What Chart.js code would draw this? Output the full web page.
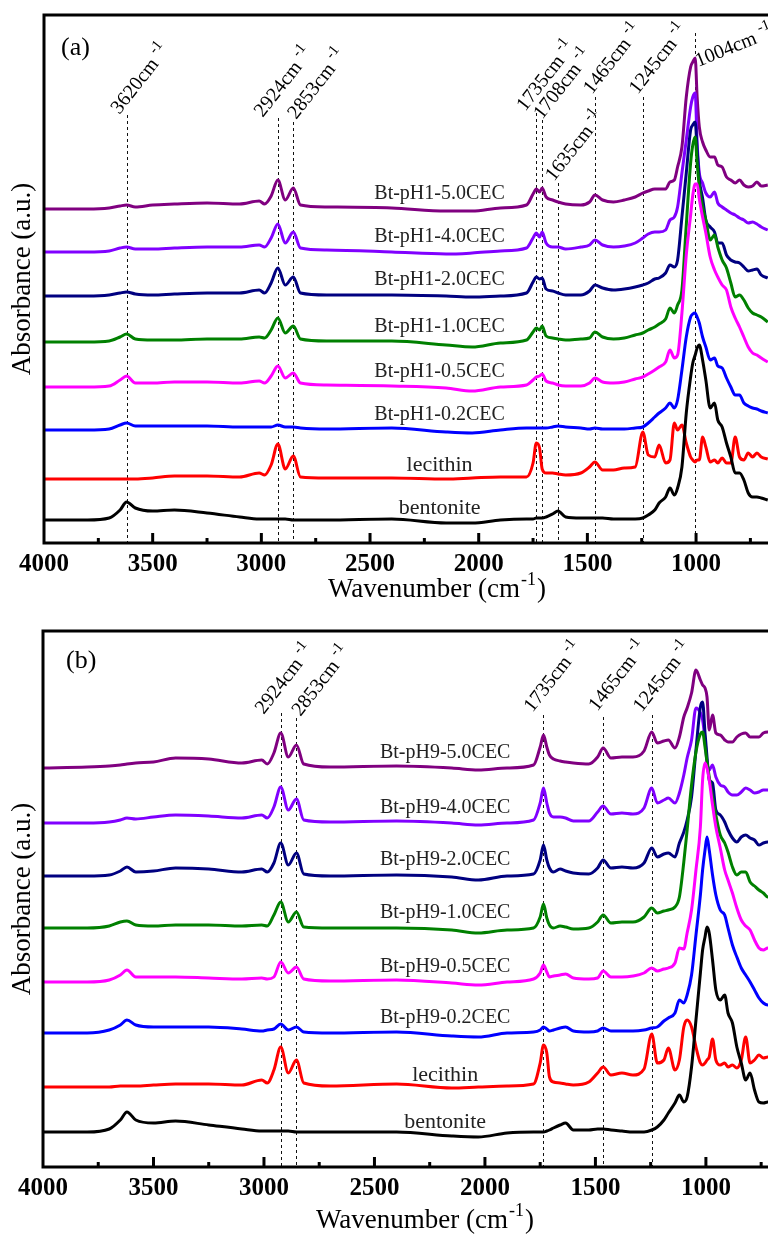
<!DOCTYPE html>
<html>
<head>
<meta charset="utf-8">
<script src="https://cdn.jsdelivr.net/npm/chart.js@4.4.1/dist/chart.umd.min.js"></script>
<style>
  html, body { margin: 0; padding: 0; background: #fff; }
  #wrap { position: relative; width: 768px; height: 1234px; overflow: hidden; }
  #panelA { position: absolute; left: 0; top: 0; }
  #panelB { position: absolute; left: 0; top: 612px; }
</style>
</head>
<body>
<div id="wrap">
  <canvas id="panelA" width="768" height="612"></canvas>
  <canvas id="panelB" width="768" height="622"></canvas>
</div>
<script>
// wavenumber grid (cm-1), shared by every spectrum
var wavenumbers = [4000, 3800, 3700, 3650, 3620, 3580, 3500, 3400, 3250, 3100,
    3010, 2985, 2955, 2924, 2890, 2853, 2820, 2700, 2400, 2150,
    2030, 1900, 1780, 1750, 1735, 1720, 1708, 1690, 1660, 1635,
    1600, 1530, 1490, 1465, 1430, 1380, 1330, 1280, 1245, 1220,
    1190, 1170, 1140, 1120, 1100, 1085, 1065, 1045, 1025, 1015,
    1004, 995, 985, 970, 955, 935, 915, 900, 880, 860,
    840, 820, 800, 780, 760, 740, 720, 700, 670];
var tickValues = [4000, 3500, 3000, 2500, 2000, 1500, 1000];

// (a) pH 1 series, stacked absorbance (a.u.)
var a_bentonite = [0.23, 0.23, 0.25, 0.33, 0.41, 0.35, 0.32, 0.33, 0.30, 0.26,
    0.24, 0.24, 0.24, 0.24, 0.24, 0.23, 0.23, 0.23, 0.24, 0.20,
    0.20, 0.23, 0.24, 0.24, 0.25, 0.25, 0.25, 0.26, 0.29, 0.32,
    0.26, 0.25, 0.25, 0.25, 0.25, 0.24, 0.24, 0.24, 0.25, 0.28,
    0.33, 0.40, 0.46, 0.55, 0.48, 0.55, 0.76, 1.30, 1.66, 1.80,
    1.88, 1.95, 1.98, 1.83, 1.63, 1.35, 1.40, 1.23, 1.16, 1.00,
    0.86, 0.70, 0.70, 0.63, 0.50, 0.46, 0.46, 0.45, 0.43];
var a_lecithin = [0.64, 0.64, 0.64, 0.64, 0.64, 0.64, 0.65, 0.67, 0.67, 0.66,
    0.70, 0.68, 0.78, 0.99, 0.74, 0.87, 0.66, 0.65, 0.65, 0.64,
    0.65, 0.66, 0.66, 0.80, 1.00, 0.95, 0.74, 0.70, 0.70, 0.69,
    0.68, 0.70, 0.76, 0.81, 0.73, 0.73, 0.75, 0.76, 1.11, 0.88,
    0.86, 0.98, 0.80, 0.83, 1.20, 1.13, 1.18, 1.00, 0.86, 0.83,
    0.81, 0.83, 0.83, 1.06, 0.96, 0.81, 0.83, 0.80, 0.85, 0.80,
    0.80, 1.06, 0.86, 0.83, 0.90, 0.86, 0.90, 0.86, 0.84];
var a_cec02 = [1.13, 1.13, 1.14, 1.18, 1.20, 1.17, 1.17, 1.17, 1.17, 1.16,
    1.16, 1.16, 1.16, 1.18, 1.16, 1.16, 1.15, 1.14, 1.15, 1.11,
    1.10, 1.13, 1.15, 1.15, 1.15, 1.15, 1.15, 1.15, 1.16, 1.17,
    1.16, 1.15, 1.14, 1.15, 1.14, 1.14, 1.14, 1.15, 1.16, 1.20,
    1.26, 1.30, 1.35, 1.40, 1.35, 1.43, 1.73, 2.06, 2.26, 2.29,
    2.30, 2.26, 2.20, 2.06, 1.96, 1.83, 1.85, 1.77, 1.75, 1.65,
    1.56, 1.48, 1.48, 1.40, 1.37, 1.35, 1.34, 1.32, 1.30];
var a_cec05 = [1.56, 1.56, 1.57, 1.63, 1.67, 1.60, 1.60, 1.61, 1.61, 1.60,
    1.62, 1.60, 1.67, 1.77, 1.65, 1.70, 1.60, 1.58, 1.57, 1.55,
    1.52, 1.56, 1.58, 1.63, 1.66, 1.67, 1.69, 1.62, 1.60, 1.58,
    1.57, 1.57, 1.60, 1.65, 1.61, 1.60, 1.61, 1.64, 1.66, 1.69,
    1.73, 1.76, 1.81, 1.93, 1.85, 1.88, 2.30, 2.88, 3.28, 3.48,
    3.59, 3.59, 3.44, 3.26, 3.10, 2.86, 2.73, 2.66, 2.58, 2.53,
    2.36, 2.25, 2.16, 2.06, 1.96, 1.90, 1.88, 1.85, 1.81];
var a_cec10 = [2.01, 2.01, 2.02, 2.06, 2.09, 2.04, 2.03, 2.03, 2.04, 2.04,
    2.06, 2.05, 2.13, 2.25, 2.10, 2.17, 2.04, 2.02, 2.02, 1.98,
    1.96, 2.00, 2.03, 2.11, 2.15, 2.13, 2.17, 2.07, 2.05, 2.04,
    2.03, 2.04, 2.05, 2.11, 2.06, 2.04, 2.05, 2.08, 2.10, 2.13,
    2.16, 2.19, 2.24, 2.35, 2.30, 2.38, 2.53, 3.18, 3.80, 3.98,
    4.06, 3.80, 3.56, 3.36, 3.23, 3.03, 3.08, 2.96, 2.83, 2.75,
    2.60, 2.46, 2.48, 2.43, 2.35, 2.30, 2.28, 2.26, 2.21];
var a_cec20 = [2.47, 2.47, 2.48, 2.50, 2.51, 2.49, 2.48, 2.49, 2.50, 2.50,
    2.53, 2.50, 2.60, 2.75, 2.58, 2.66, 2.50, 2.48, 2.48, 2.47,
    2.46, 2.47, 2.50, 2.61, 2.66, 2.64, 2.65, 2.54, 2.52, 2.50,
    2.48, 2.48, 2.52, 2.58, 2.55, 2.53, 2.54, 2.56, 2.58, 2.60,
    2.64, 2.65, 2.70, 2.78, 2.76, 2.83, 3.26, 3.70, 4.13, 4.18,
    4.21, 3.93, 3.63, 3.45, 3.23, 3.16, 3.11, 3.00, 3.00, 2.88,
    2.83, 2.81, 2.80, 2.76, 2.72, 2.73, 2.74, 2.68, 2.65];
var a_cec40 = [2.91, 2.91, 2.92, 2.95, 2.96, 2.94, 2.94, 2.95, 2.96, 2.96,
    2.98, 2.96, 3.05, 3.19, 3.00, 3.11, 2.95, 2.93, 2.91, 2.89,
    2.90, 2.92, 2.95, 3.05, 3.10, 3.06, 3.11, 3.00, 2.96, 2.96,
    2.94, 2.96, 2.98, 3.03, 2.98, 2.96, 2.97, 3.00, 3.05, 3.09,
    3.11, 3.11, 3.13, 3.23, 3.26, 3.36, 3.70, 4.03, 4.36, 4.46,
    4.50, 4.00, 3.70, 3.60, 3.50, 3.46, 3.51, 3.40, 3.36, 3.33,
    3.30, 3.28, 3.25, 3.23, 3.20, 3.21, 3.19, 3.16, 3.13];
var a_cec50 = [3.34, 3.34, 3.35, 3.37, 3.38, 3.36, 3.38, 3.39, 3.40, 3.39,
    3.42, 3.39, 3.47, 3.63, 3.43, 3.55, 3.38, 3.36, 3.35, 3.32,
    3.32, 3.35, 3.38, 3.49, 3.54, 3.51, 3.55, 3.46, 3.43, 3.41,
    3.39, 3.38, 3.41, 3.48, 3.43, 3.41, 3.43, 3.46, 3.50, 3.52,
    3.54, 3.54, 3.54, 3.61, 3.63, 3.76, 3.96, 4.46, 4.76, 4.81,
    4.85, 4.46, 4.16, 4.01, 3.93, 3.86, 3.86, 3.78, 3.76, 3.66,
    3.63, 3.60, 3.63, 3.58, 3.56, 3.57, 3.61, 3.57, 3.58];

// (b) pH 9 series
var b_bentonite = [0.35, 0.35, 0.38, 0.47, 0.55, 0.47, 0.44, 0.46, 0.42, 0.38,
    0.36, 0.36, 0.36, 0.36, 0.36, 0.35, 0.35, 0.35, 0.35, 0.31,
    0.30, 0.34, 0.35, 0.35, 0.35, 0.36, 0.37, 0.39, 0.42, 0.44,
    0.37, 0.37, 0.38, 0.38, 0.37, 0.36, 0.35, 0.35, 0.37, 0.40,
    0.47, 0.54, 0.64, 0.72, 0.65, 0.70, 1.00, 1.47, 1.94, 2.17,
    2.30, 2.40, 2.34, 2.07, 1.77, 1.67, 1.72, 1.54, 1.44, 1.20,
    1.04, 0.87, 0.94, 0.77, 0.65, 0.64, 0.65, 0.65, 0.65];
var b_lecithin = [0.80, 0.80, 0.80, 0.81, 0.81, 0.81, 0.82, 0.83, 0.83, 0.82,
    0.87, 0.84, 0.97, 1.20, 0.94, 1.07, 0.84, 0.81, 0.83, 0.79,
    0.80, 0.81, 0.83, 1.04, 1.22, 1.14, 0.90, 0.85, 0.84, 0.83,
    0.82, 0.85, 0.94, 1.00, 0.92, 0.94, 0.92, 0.98, 1.33, 1.04,
    1.07, 1.19, 0.97, 1.07, 1.40, 1.47, 1.40, 1.20, 1.04, 1.02,
    1.04, 1.07, 1.10, 1.28, 1.07, 1.02, 1.04, 1.00, 1.02, 0.99,
    1.07, 1.30, 1.04, 1.07, 1.12, 1.09, 1.10, 1.10, 1.10];
var b_cec02 = [1.34, 1.34, 1.37, 1.42, 1.47, 1.42, 1.40, 1.40, 1.40, 1.38,
    1.36, 1.37, 1.38, 1.43, 1.37, 1.40, 1.35, 1.34, 1.35, 1.31,
    1.30, 1.34, 1.35, 1.37, 1.40, 1.38, 1.36, 1.37, 1.39, 1.40,
    1.36, 1.35, 1.36, 1.39, 1.36, 1.36, 1.36, 1.37, 1.39, 1.40,
    1.46, 1.49, 1.54, 1.67, 1.64, 1.72, 1.92, 2.32, 2.72, 2.97,
    3.17, 3.30, 3.17, 2.92, 2.72, 2.57, 2.52, 2.39, 2.22, 2.10,
    1.99, 1.92, 1.85, 1.77, 1.69, 1.64, 1.62, 1.62, 1.62];
var b_cec05 = [1.85, 1.85, 1.87, 1.92, 1.97, 1.90, 1.90, 1.90, 1.89, 1.88,
    1.89, 1.88, 1.90, 2.05, 1.94, 2.00, 1.88, 1.86, 1.87, 1.84,
    1.82, 1.85, 1.88, 1.94, 2.02, 1.95, 1.90, 1.91, 1.92, 1.93,
    1.89, 1.88, 1.89, 1.96, 1.90, 1.90, 1.91, 1.94, 1.99, 1.96,
    1.98, 1.99, 2.04, 2.19, 2.18, 2.34, 2.57, 2.97, 3.40, 3.87,
    4.04, 3.99, 3.87, 3.62, 3.40, 3.19, 2.97, 2.87, 2.74, 2.59,
    2.47, 2.41, 2.37, 2.27, 2.19, 2.17, 2.19, 2.19, 2.19];
var b_cec10 = [2.39, 2.39, 2.41, 2.45, 2.46, 2.42, 2.41, 2.42, 2.42, 2.41,
    2.42, 2.41, 2.52, 2.65, 2.45, 2.55, 2.40, 2.39, 2.39, 2.37,
    2.34, 2.37, 2.39, 2.50, 2.63, 2.49, 2.42, 2.39, 2.41, 2.40,
    2.38, 2.39, 2.45, 2.52, 2.44, 2.45, 2.45, 2.50, 2.59, 2.54,
    2.56, 2.57, 2.60, 2.70, 3.05, 3.37, 3.82, 4.15, 4.33, 4.35,
    4.20, 4.05, 3.90, 3.70, 3.52, 3.32, 3.24, 3.15, 3.00, 2.92,
    2.95, 2.95, 2.85, 2.81, 2.77, 2.74, 2.70, 2.70, 2.70];
var b_cec20 = [2.91, 2.91, 2.92, 2.96, 3.00, 2.95, 2.96, 2.99, 2.98, 2.95,
    2.98, 2.95, 3.04, 3.24, 3.02, 3.14, 2.93, 2.91, 2.92, 2.90,
    2.87, 2.91, 2.93, 3.07, 3.22, 3.07, 2.99, 2.95, 2.98, 2.96,
    2.94, 2.93, 2.99, 3.07, 2.99, 3.00, 2.99, 3.04, 3.19, 3.10,
    3.13, 3.14, 3.10, 3.24, 3.35, 3.47, 3.70, 4.17, 4.60, 4.65,
    4.34, 4.10, 3.87, 3.84, 3.57, 3.52, 3.45, 3.37, 3.29, 3.25,
    3.30, 3.32, 3.29, 3.27, 3.22, 3.24, 3.25, 3.25, 3.25];
var b_cec40 = [3.44, 3.44, 3.45, 3.47, 3.49, 3.48, 3.50, 3.52, 3.51, 3.49,
    3.52, 3.49, 3.60, 3.80, 3.57, 3.68, 3.47, 3.45, 3.46, 3.44,
    3.42, 3.44, 3.47, 3.64, 3.79, 3.64, 3.54, 3.50, 3.50, 3.49,
    3.46, 3.46, 3.55, 3.61, 3.53, 3.54, 3.53, 3.59, 3.79, 3.64,
    3.67, 3.69, 3.64, 3.74, 3.92, 4.09, 4.27, 4.59, 4.54, 4.47,
    4.27, 4.04, 3.97, 4.02, 3.90, 3.82, 3.80, 3.75, 3.72, 3.72,
    3.75, 3.79, 3.77, 3.74, 3.75, 3.77, 3.77, 3.77, 3.77];
var b_cec50 = [3.99, 4.00, 4.01, 4.02, 4.03, 4.04, 4.05, 4.09, 4.08, 4.04,
    4.07, 4.03, 4.14, 4.34, 4.10, 4.22, 4.03, 4.00, 4.01, 3.99,
    3.97, 3.99, 4.02, 4.20, 4.32, 4.20, 4.12, 4.08, 4.06, 4.05,
    4.04, 4.03, 4.10, 4.19, 4.09, 4.10, 4.10, 4.16, 4.35, 4.24,
    4.26, 4.27, 4.19, 4.30, 4.50, 4.59, 4.74, 4.97, 4.87, 4.82,
    4.79, 4.70, 4.37, 4.52, 4.34, 4.32, 4.27, 4.25, 4.25, 4.30,
    4.33, 4.34, 4.30, 4.30, 4.30, 4.34, 4.35, 4.35, 4.35];

var colors = ['#000000', '#ff0000', '#0000ff', '#ff00ff', '#008000', '#000080', '#8000ff', '#800080'];
var namesA = ['bentonite', 'lecithin', 'Bt-pH1-0.2CEC', 'Bt-pH1-0.5CEC', 'Bt-pH1-1.0CEC', 'Bt-pH1-2.0CEC', 'Bt-pH1-4.0CEC', 'Bt-pH1-5.0CEC'];
var namesB = ['bentonite', 'lecithin', 'Bt-pH9-0.2CEC', 'Bt-pH9-0.5CEC', 'Bt-pH9-1.0CEC', 'Bt-pH9-2.0CEC', 'Bt-pH9-4.0CEC', 'Bt-pH9-5.0CEC'];
var nameLevelA = [0.35, 0.78, 1.28, 1.71, 2.16, 2.63, 3.06, 3.49];
var nameLevelB = [0.45, 0.92, 1.49, 2.00, 2.54, 3.07, 3.59, 4.14];

// marked bands: wavenumber and the top of the dashed guide
var peaksA = [3620, 2924, 2853, 1735, 1708, 1635, 1465, 1245, 1004];
var peakTopA = [4.28, 4.25, 4.21, 4.30, 4.23, 3.60, 4.46, 4.46, 5.10];
var peaksB = [2924, 2853, 1735, 1465, 1245];
var peakTopB = [4.54, 4.49, 4.52, 4.50, 4.52];

// where each band label starts, relative to the top of its guide (px)
var labelShiftA = [[-7, 0], [-15, 0], [3, -2], [-11, -1], [0, 0], [-4, -1], [-3, -2], [-5, -2], [3, 34]];
var labelShiftB = [[-17, 2], [4, -1], [-11, -2], [-6, -5], [-10, -2]];

var serif = "'Liberation Serif', 'Times New Roman', serif";

function decor(p) {
    return {
        id: 'decor',
        beforeDatasetsDraw: function(chart) {
            var ctx = chart.ctx, area = chart.chartArea, x = chart.scales.x, y = chart.scales.y;
            ctx.save();
            ctx.strokeStyle = '#111';
            ctx.lineWidth = 1;
            ctx.setLineDash([3, 3]);
            p.peaks.forEach(function(wn, i) {
                var px = Math.round(x.getPixelForValue(wn)) + 0.5;
                ctx.beginPath();
                ctx.moveTo(px, y.getPixelForValue(p.peakTop[i]));
                ctx.lineTo(px, area.bottom);
                ctx.stroke();
            });
            ctx.restore();
        },
        afterDraw: function(chart) {
            var ctx = chart.ctx, area = chart.chartArea, x = chart.scales.x, y = chart.scales.y;
            ctx.save();
            ctx.strokeStyle = '#000';
            ctx.lineWidth = 3;
            ctx.beginPath();
            ctx.moveTo(chart.width + 5, area.top);
            ctx.lineTo(area.left, area.top);
            ctx.lineTo(area.left, area.bottom);
            ctx.lineTo(chart.width + 5, area.bottom);
            ctx.stroke();

            // inward tick marks
            for (var v = 750; v < 4000; v += 250) {
                var tx = x.getPixelForValue(v);
                if (tx > area.right) continue;
                var len = v % 500 === 0 ? 10 : 5;
                ctx.beginPath();
                ctx.moveTo(tx, area.bottom);
                ctx.lineTo(tx, area.bottom - len);
                ctx.stroke();
            }

            ctx.fillStyle = '#000';
            // band labels, rotated
            p.peaks.forEach(function(wn, i) {
                var flat = wn === 1004;
                var ax = x.getPixelForValue(wn) + p.labelShift[i][0];
                var ay = y.getPixelForValue(p.peakTop[i]) + p.labelShift[i][1];
                ctx.save();
                ctx.translate(ax, ay);
                ctx.rotate(-(flat ? 22 : 52) * Math.PI / 180);
                ctx.textAlign = 'left';
                ctx.textBaseline = 'alphabetic';
                ctx.font = '20px ' + serif;
                var main = wn + 'cm';
                ctx.fillText(main, 0, 0);
                var w = ctx.measureText(main).width;
                ctx.font = '15px ' + serif;
                ctx.fillText('-1', w + 5, -9);
                ctx.restore();
            });

            // spectrum names
            ctx.fillStyle = '#222';
            ctx.textAlign = 'center';
            ctx.textBaseline = 'middle';
            p.names.forEach(function(name, i) {
                ctx.font = (i < 2 ? 22 : 20) + 'px ' + serif;
                ctx.fillText(name, x.getPixelForValue(2180), y.getPixelForValue(p.nameLevel[i]));
            });

            // panel tag
            ctx.fillStyle = '#000';
            ctx.textAlign = 'left';
            ctx.textBaseline = 'alphabetic';
            ctx.font = '26px ' + serif;
            ctx.fillText(p.tag, p.tagX, p.tagY);

            // x axis title with superscript
            ctx.font = '27px ' + serif;
            var t1 = 'Wavenumber (cm', t2 = ')';
            var w1 = ctx.measureText(t1).width, w2 = ctx.measureText(t2).width;
            ctx.font = '18px ' + serif;
            var ws = ctx.measureText('-1').width;
            var start = p.titleX - (w1 + ws + 2 + w2) / 2;
            var base = area.bottom + p.titleDrop;
            ctx.fillText('-1', start + w1 + 1, base - 12);
            ctx.font = '27px ' + serif;
            ctx.fillText(t1, start, base);
            ctx.fillText(t2, start + w1 + ws + 2, base);
            ctx.restore();
        }
    };
}

function buildChart(id, p) {
    var datasets = p.series.map(function(vals, i) {
        return {
            label: p.names[i],
            data: wavenumbers.map(function(w, k) { return {x: w, y: vals[k]}; }),
            borderColor: colors[i],
            borderWidth: 3,
            pointRadius: 0,
            fill: false,
            cubicInterpolationMode: 'monotone'
        };
    });
    return new Chart(document.getElementById(id), {
        type: 'line',
        data: {datasets: datasets},
        options: {
            responsive: false,
            animation: false,
            devicePixelRatio: 1,
            layout: {padding: {top: p.padTop, left: 0, right: 0, bottom: 0}},
            plugins: {legend: {display: false}, tooltip: {enabled: false}},
            scales: {
                x: {
                    type: 'linear',
                    reverse: true,
                    min: p.xMin,
                    max: 4000,
                    grid: {display: false, drawTicks: false},
                    border: {display: false},
                    afterBuildTicks: function(s) {
                        s.ticks = tickValues.map(function(v) { return {value: v}; });
                    },
                    ticks: {
                        autoSkip: false,
                        maxRotation: 0,
                        padding: 7,
                        color: '#000',
                        font: {family: serif, size: 25, weight: 'bold'},
                        callback: function(v) { return String(v); }
                    },
                    afterFit: function(s) { s.height = p.xAxisHeight; }
                },
                y: {
                    min: 0,
                    max: p.yMax,
                    ticks: {display: false},
                    grid: {display: false, drawTicks: false},
                    border: {display: false},
                    title: {
                        display: true,
                        text: 'Absorbance (a.u.)',
                        color: '#000',
                        font: {family: serif, size: 27},
                        padding: {top: 7, bottom: 0}
                    },
                    afterFit: function(s) { s.width = p.yAxisWidth; }
                }
            }
        },
        plugins: [decor(p)]
    });
}

buildChart('panelA', {
    series: [a_bentonite, a_lecithin, a_cec02, a_cec05, a_cec10, a_cec20, a_cec40, a_cec50],
    names: namesA, nameLevel: nameLevelA,
    peaks: peaksA, peakTop: peakTopA, labelShift: labelShiftA,
    xMin: 669, yMax: 5.28, padTop: 15, xAxisHeight: 69, yAxisWidth: 44,
    tag: '(a)', tagX: 61, tagY: 55, titleX: 437, titleDrop: 54
});
buildChart('panelB', {
    series: [b_bentonite, b_lecithin, b_cec02, b_cec05, b_cec10, b_cec20, b_cec40, b_cec50],
    names: namesB, nameLevel: nameLevelB,
    peaks: peaksB, peakTop: peakTopB, labelShift: labelShiftB,
    xMin: 719, yMax: 5.36, padTop: 19, xAxisHeight: 67, yAxisWidth: 43,
    tag: '(b)', tagX: 66, tagY: 56, titleX: 425, titleDrop: 61
});
</script>
</body>
</html>
